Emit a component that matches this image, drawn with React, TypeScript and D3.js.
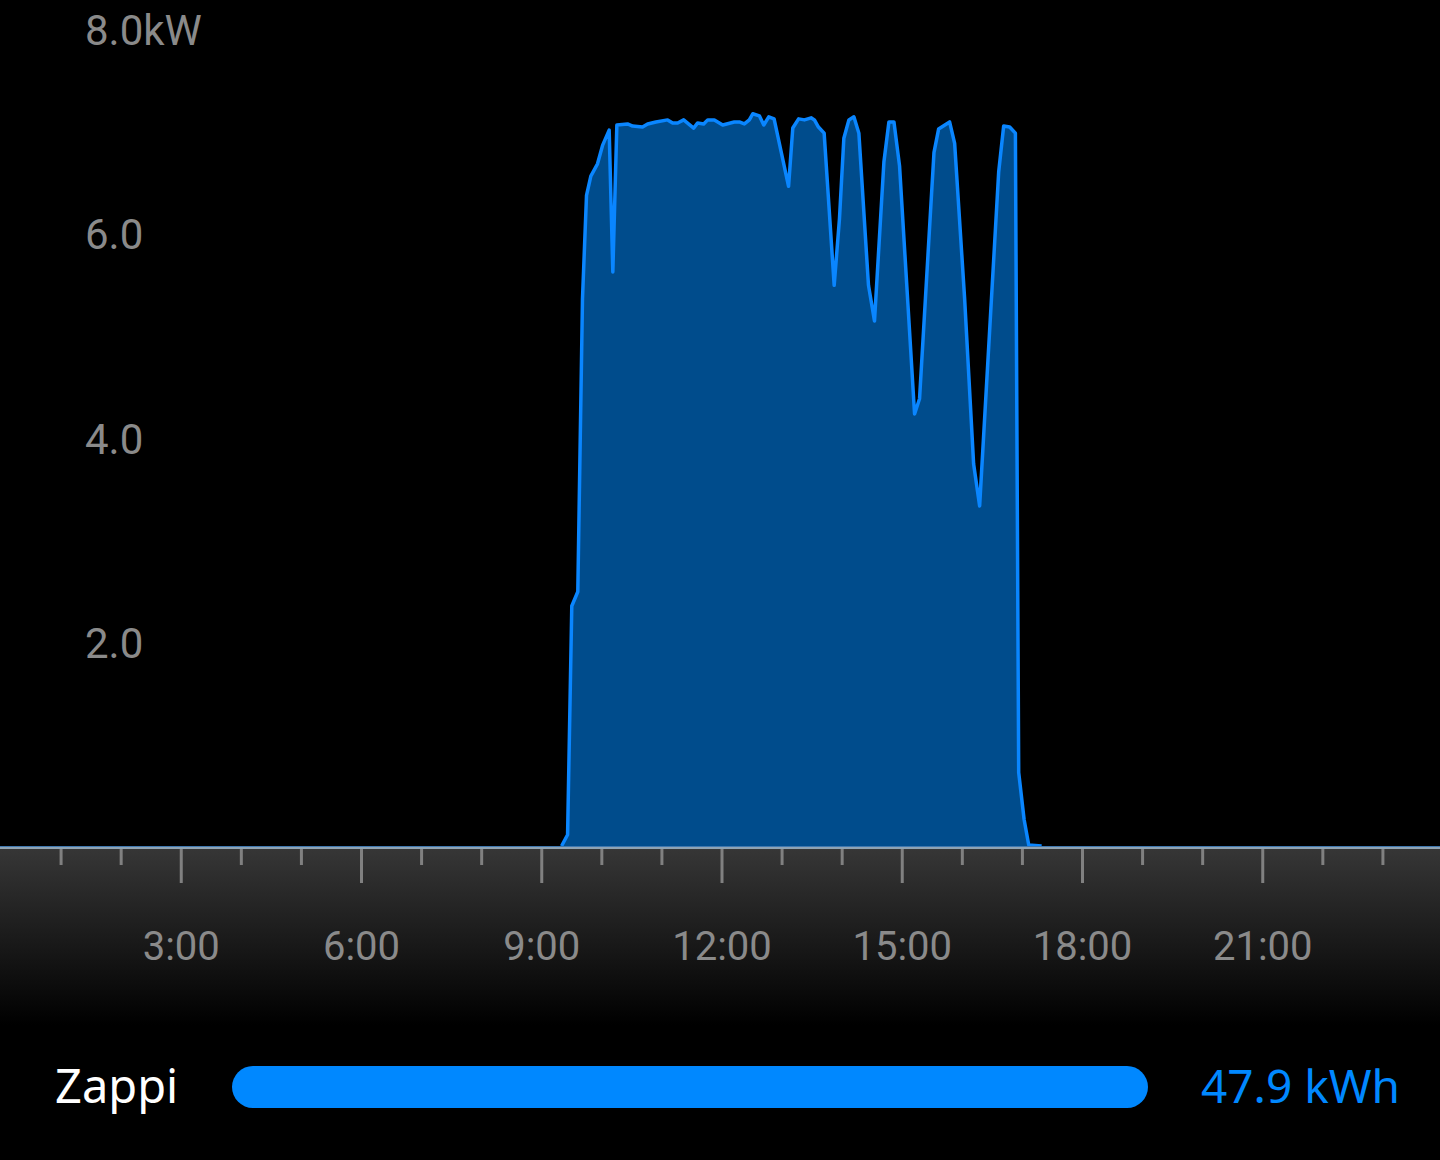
import React from 'react';
import * as d3 from 'd3';

// Zappi charge power over the day (hours since midnight, kW)
const hours = [
  9.33, 9.43, 9.5, 9.6, 9.678, 9.745, 9.817, 9.928, 10.012, 10.122, 10.183, 10.25,
  10.428, 10.512, 10.678, 10.762, 10.9, 11.095, 11.178, 11.262, 11.362, 11.528, 11.595,
  11.695, 11.762, 11.872, 12.012, 12.205, 12.288, 12.372, 12.455, 12.512, 12.622, 12.695,
  12.778, 12.867, 13.108, 13.178, 13.275, 13.372, 13.483, 13.538, 13.605, 13.7, 13.867,
  13.955, 14.028, 14.112, 14.195, 14.278, 14.438, 14.538, 14.695, 14.778, 14.862, 14.955,
  15.205, 15.288, 15.528, 15.605, 15.788, 15.872, 16.038, 16.188, 16.288, 16.605, 16.688,
  16.788, 16.883, 16.938, 17.028, 17.105, 17.32,
];
const powerKw = [
  0, 0.11, 2.35, 2.49, 5.36, 6.37, 6.56, 6.68, 6.86, 7.01, 5.62, 7.06,
  7.07, 7.05, 7.04, 7.07, 7.09, 7.11, 7.08, 7.08, 7.11, 7.03, 7.08,
  7.07, 7.11, 7.11, 7.06, 7.09, 7.09, 7.07, 7.11, 7.17, 7.15, 7.06,
  7.14, 7.12, 6.46, 7.03, 7.12, 7.11, 7.13, 7.11, 7.04, 6.98, 5.49,
  6.14, 6.93, 7.11, 7.14, 6.98, 5.49, 5.14, 6.70, 7.09, 7.09, 6.66,
  4.23, 4.38, 6.79, 7.02, 7.09, 6.88, 5.36, 3.74, 3.33, 6.60, 7.05,
  7.04, 6.98, 0.72, 0.26, 0.01, 0,
];

const yTicks = [2, 4, 6, 8];
const hourTicks = d3.range(1, 24);
const labelHours = [3, 6, 9, 12, 15, 18, 21];

const seriesName = 'Zappi';
const seriesTotalKwh = 47.9;
const totalKwh = 47.9;

const W = 1440;
const H = 1160;
const BASE = 847;

const App: React.FC = () => {
  const x = d3.scaleLinear().domain([0, 24]).range([1, 1443]);
  const y = d3.scaleLinear().domain([0, 8]).range([BASE, 30]);

  const pts = hours.map((h, i) => ({ h, v: powerKw[i] }));

  const area = d3.area<{ h: number; v: number }>()
    .x(d => x(d.h))
    .y0(BASE)
    .y1(d => y(d.v))
    .curve(d3.curveLinear);

  const line = d3.line<{ h: number; v: number }>()
    .x(d => x(d.h))
    .y(d => y(d.v) - 1)
    .curve(d3.curveLinear);

  // share of total energy -> legend bar length
  const bar = d3.scaleLinear().domain([0, totalKwh]).range([232, 1148]);

  return (
    <div>
      <style>{`body{margin:0;background:#000}`}</style>
      <svg width={W} height={H} style={{ display: 'block', background: '#000' }}>
        <defs>
          <linearGradient id="axisBand" x1="0" y1="0" x2="0" y2="1">
            <stop offset="0" stopColor="#363636" />
            <stop offset="1" stopColor="#000000" />
          </linearGradient>
        </defs>

        {/* y labels */}
        {yTicks.map(t => (
          <text
            key={t}
            x={85}
            y={y(t) + 15}
            fontFamily="Roboto"
            fontSize={42}
            fill="#8a8a8a"
          >
            {t === 8 ? `${t.toFixed(1)}kW` : t.toFixed(1)}
          </text>
        ))}

        {/* series */}
        <path d={area(pts) || ''} fill="#004c8c" />
        <path
          d={line(pts) || ''}
          fill="none"
          stroke="#0a86ff"
          strokeWidth={3.5}
          strokeLinejoin="round"
        />

        {/* time axis band */}
        <rect x={0} y={849} width={W} height={176} fill="url(#axisBand)" />
        <line x1={0} x2={W} y1={846.5} y2={846.5} stroke="#3f78b0" strokeWidth={1} />
        <line x1={0} x2={W} y1={848} y2={848} stroke="#8fa3b3" strokeWidth={2} />
        {hourTicks.map(h => (
          <line
            key={h}
            x1={x(h)}
            x2={x(h)}
            y1={849}
            y2={h % 3 === 0 ? 883 : 865}
            stroke="#808080"
            strokeWidth={3}
          />
        ))}
        {labelHours.map(h => (
          <text
            key={h}
            x={x(h)}
            y={960}
            textAnchor="middle"
            fontFamily="Roboto"
            fontSize={40}
            fill="#8a8a8a"
          >
            {`${h}:00`}
          </text>
        ))}

        {/* legend */}
        <text x={55} y={1103} fontFamily="'Noto Sans'" fontSize={47} fill="#ffffff">
          {seriesName}
        </text>
        <rect
          x={bar(0)}
          y={1066}
          width={bar(seriesTotalKwh) - bar(0)}
          height={42}
          rx={21}
          fill="#0088ff"
        />
        <text
          x={1400}
          y={1103}
          textAnchor="end"
          fontFamily="'Noto Sans'"
          fontSize={46}
          fill="#0088ff"
        >
          {`${seriesTotalKwh} kWh`}
        </text>
      </svg>
    </div>
  );
};

export default App;
